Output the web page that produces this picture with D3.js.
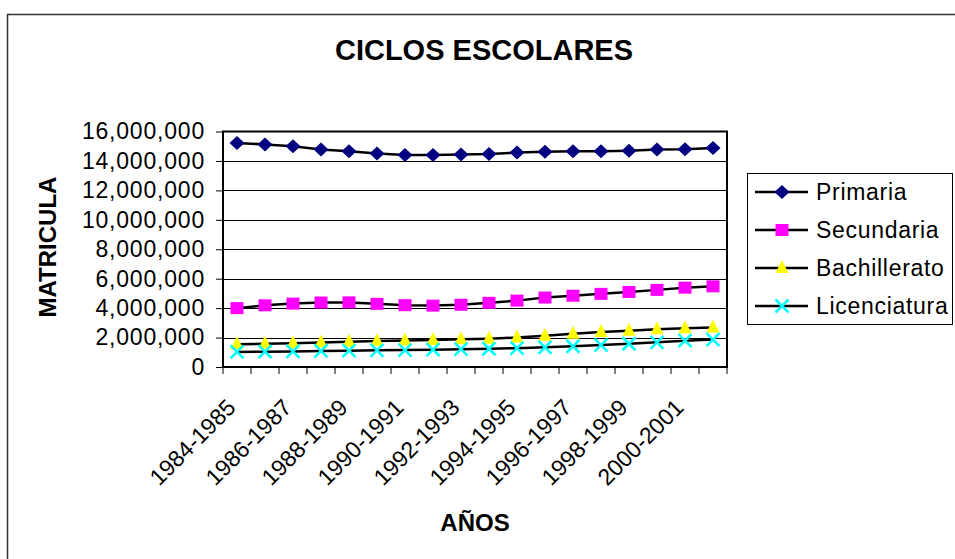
<!DOCTYPE html>
<html>
<head>
<meta charset="utf-8">
<script src="https://cdn.jsdelivr.net/npm/d3@7"></script>
<style>
  body { margin: 0; background: #fff; }
  svg { font-family: "Liberation Sans", Arial, sans-serif; }
</style>
</head>
<body>
<svg id="chart" width="955" height="559"></svg>
<script>
var ciclos = ["1984-1985","1985-1986","1986-1987","1987-1988","1988-1989","1989-1990",
  "1990-1991","1991-1992","1992-1993","1993-1994","1994-1995","1995-1996",
  "1996-1997","1997-1998","1998-1999","1999-2000","2000-2001","2001-2002"];

var primaria = [15220000,15120000,15000000,14780000,14660000,14500000,14400000,14400000,14430000,
  14470000,14570000,14620000,14650000,14650000,14700000,14770000,14790000,14880000];
var secundaria = [4000000,4190000,4310000,4380000,4390000,4290000,4200000,4170000,4230000,
  4360000,4510000,4720000,4840000,4970000,5100000,5240000,5390000,5480000];
var bachillerato = [1540000,1580000,1620000,1670000,1720000,1760000,1800000,1840000,1880000,
  1920000,2000000,2120000,2260000,2380000,2470000,2560000,2640000,2680000];
var licenciatura = [1020000,1040000,1060000,1090000,1110000,1130000,1150000,1180000,1210000,
  1240000,1280000,1340000,1410000,1490000,1580000,1680000,1790000,1860000];

var yTicks = [0,2000000,4000000,6000000,8000000,10000000,12000000,14000000,16000000];

var series = [
  {name: "Primaria", values: primaria, shape: "diamond", color: "#000080"},
  {name: "Secundaria", values: secundaria, shape: "square", color: "#FF00FF"},
  {name: "Bachillerato", values: bachillerato, shape: "triangle", color: "#FFFF00"},
  {name: "Licenciatura", values: licenciatura, shape: "x", color: "#00FFFF"}
];

var svg = d3.select("#chart");
var plotL = 223, plotR = 727, plotT = 131.5, plotB = 367;

// outer chart border
svg.append("rect")
  .attr("x", 7.5).attr("y", 14.5)
  .attr("width", 1000).attr("height", 600)
  .attr("fill", "none").attr("stroke", "#333").attr("stroke-width", 1.5);

var x = d3.scaleBand().domain(ciclos).range([plotL, plotR]);
var y = d3.scaleLinear().domain([0, 16000000]).range([plotB, plotT]);

// gridlines
svg.append("g").selectAll("line")
  .data(yTicks.slice(1, -1))
  .join("line")
    .attr("x1", plotL).attr("x2", plotR)
    .attr("y1", function(d) { return Math.round(y(d)) + 0.5; })
    .attr("y2", function(d) { return Math.round(y(d)) + 0.5; })
    .attr("stroke", "#000").attr("stroke-width", 1);

// y axis
var yAxis = svg.append("g")
  .attr("transform", "translate(" + plotL + ",0)")
  .call(d3.axisLeft(y).tickValues(yTicks).tickSize(7).tickPadding(11)
    .tickFormat(d3.format(",")));
yAxis.select(".domain").remove();
yAxis.selectAll("text").attr("font-size", 23).attr("fill", "#000")
  .attr("letter-spacing", 0.8)
  .attr("font-family", "Liberation Sans, Arial, sans-serif");
yAxis.selectAll("line").attr("stroke", "#000");

// x axis ticks at category boundaries
var bounds = ciclos.map(function(c) { return x(c); }).concat([plotR]);
svg.append("g").selectAll("line")
  .data(bounds)
  .join("line")
    .attr("x1", function(d) { return d; }).attr("x2", function(d) { return d; })
    .attr("y1", plotB).attr("y2", plotB + 7)
    .attr("stroke", "#000");

svg.append("g").selectAll("text")
  .data(ciclos.filter(function(c, i) { return i % 2 === 0; }))
  .join("text")
    .attr("transform", function(d) {
      return "translate(" + (x(d) + x.bandwidth() / 2) + ",409) rotate(-45)";
    })
    .attr("text-anchor", "end")
    .attr("font-size", 23)
    .text(function(d) { return d; });

// plot area border
svg.append("rect")
  .attr("x", plotL).attr("y", plotT)
  .attr("width", plotR - plotL).attr("height", plotB - plotT)
  .attr("fill", "none").attr("stroke", "#000").attr("stroke-width", 2);

var line = d3.line()
  .x(function(d, i) { return x(ciclos[i]) + x.bandwidth() / 2; })
  .y(function(d) { return y(d); });

function marker(g, shape, color) {
  if (shape === "diamond") {
    g.append("path").attr("d", "M0,-7L7.5,0L0,7L-7.5,0Z").attr("fill", color);
  } else if (shape === "square") {
    g.append("rect").attr("x", -6.5).attr("y", -6).attr("width", 13).attr("height", 12)
      .attr("fill", color);
  } else if (shape === "triangle") {
    g.append("path").attr("d", "M0,-8L6.5,5L-6.5,5Z").attr("fill", color);
  } else {
    g.append("path").attr("d", "M-6.5,-6.5L6.5,6.5M-6.5,6.5L6.5,-6.5")
      .attr("stroke", color).attr("stroke-width", 2.5).attr("fill", "none");
  }
}

series.forEach(function(s) {
  svg.append("path")
    .datum(s.values)
    .attr("d", line)
    .attr("fill", "none").attr("stroke", "#000").attr("stroke-width", 2.5);
});
series.forEach(function(s) {
  svg.append("g").selectAll("g")
    .data(s.values)
    .join("g")
      .attr("transform", function(d, i) {
        return "translate(" + (x(ciclos[i]) + x.bandwidth() / 2) + "," + y(d) + ")";
      })
      .each(function() { marker(d3.select(this), s.shape, s.color); });
});

// titles
svg.append("text")
  .attr("x", 484).attr("y", 60)
  .attr("text-anchor", "middle")
  .attr("font-size", 29).attr("font-weight", "bold")
  .text("CICLOS ESCOLARES");

svg.append("text")
  .attr("transform", "translate(56,247) rotate(-90)")
  .attr("text-anchor", "middle")
  .attr("font-size", 24).attr("font-weight", "bold")
  .text("MATRICULA");

svg.append("text")
  .attr("x", 475).attr("y", 531)
  .attr("text-anchor", "middle")
  .attr("font-size", 24).attr("font-weight", "bold")
  .text("AÑOS");

// legend
var legend = svg.append("g");
legend.append("rect")
  .attr("x", 747.5).attr("y", 173.5)
  .attr("width", 205).attr("height", 151)
  .attr("fill", "#fff").attr("stroke", "#000").attr("stroke-width", 1);

var items = legend.selectAll("g.item")
  .data(series)
  .join("g")
    .attr("class", "item")
    .attr("transform", function(d, i) { return "translate(0," + (192 + i * 38) + ")"; });
items.append("line")
  .attr("x1", 755).attr("x2", 808)
  .attr("stroke", "#000").attr("stroke-width", 2.5);
items.append("g")
  .attr("transform", "translate(782,0)")
  .each(function(d) { marker(d3.select(this), d.shape, d.color); });
items.append("text")
  .attr("x", 816).attr("dy", "0.35em")
  .attr("font-size", 23)
  .attr("letter-spacing", 0.7)
  .text(function(d) { return d.name; });
</script>
</body>
</html>
